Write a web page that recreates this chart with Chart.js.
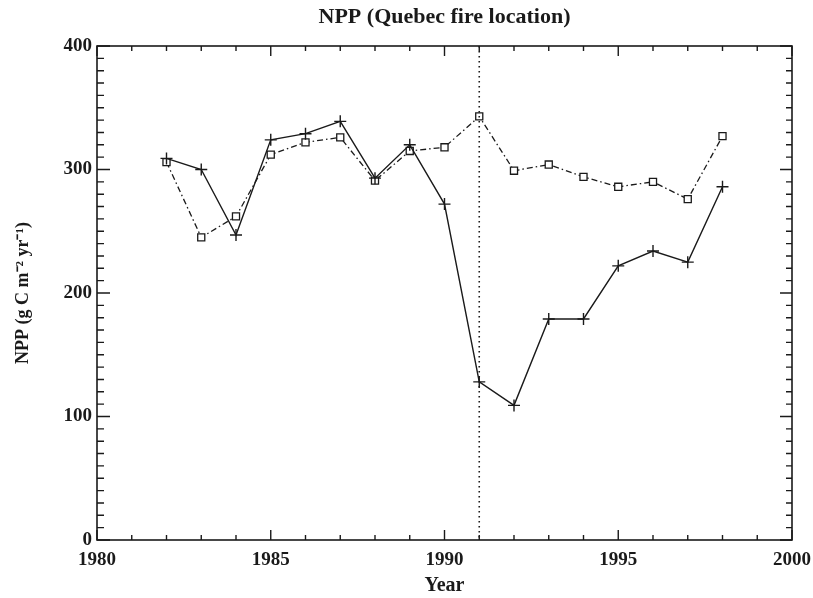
<!DOCTYPE html>
<html>
<head>
<meta charset="utf-8">
<script src="https://cdn.jsdelivr.net/npm/chart.js@4/dist/chart.umd.min.js"></script>
<style>
  html, body { margin: 0; padding: 0; background: #fff; overflow: hidden; }
  canvas { display: block; }
</style>
</head>
<body>
<canvas id="npp" width="813" height="598"></canvas>
<script>
const years = [1982, 1983, 1984, 1985, 1986, 1987, 1988, 1989, 1990, 1991, 1992, 1993, 1994, 1995, 1996, 1997, 1998];
const crossVals = [309, 300, 247, 324, 329, 339, 293, 320, 272, 128, 109, 179, 179, 222, 234, 225, 286];
const squareVals = [306, 245, 262, 312, 322, 326, 291, 315, 318, 343, 299, 304, 294, 286, 290, 276, 327];
const xTicks = [1980, 1985, 1990, 1995, 2000];
const yTicks = [0, 100, 200, 300, 400];
const fireYear = 1991;
const chartTitle = 'NPP (Quebec fire location)';

const INK = '#1a1a1a';
const SERIF = "'Liberation Serif', 'Times New Roman', serif";

// ticks inside the frame on all four sides, frame, fire line, title
const framePlugin = {
  id: 'frame',
  afterDatasetsDraw(chart) {
    const { ctx, chartArea: a, scales: { x, y } } = chart;
    ctx.save();
    ctx.strokeStyle = INK;

    // fire year dotted line
    const fx = x.getPixelForValue(fireYear);
    ctx.lineWidth = 1.6;
    ctx.setLineDash([1.6, 3.4]);
    ctx.beginPath();
    ctx.moveTo(fx, a.top);
    ctx.lineTo(fx, a.bottom);
    ctx.stroke();
    ctx.setLineDash([]);

    ctx.lineWidth = 1.4;
    ctx.beginPath();
    for (let v = x.min; v <= x.max; v += 1) {
      const px = x.getPixelForValue(v);
      const len = v % 5 === 0 ? 10 : 5;
      ctx.moveTo(px, a.bottom); ctx.lineTo(px, a.bottom - len);
      ctx.moveTo(px, a.top); ctx.lineTo(px, a.top + len);
    }
    for (let v = y.min; v <= y.max; v += 10) {
      const py = y.getPixelForValue(v);
      const big = v % 100 === 0;
      ctx.moveTo(a.left, py); ctx.lineTo(a.left + (big ? 13 : 7), py);
      ctx.moveTo(a.right, py); ctx.lineTo(a.right - (big ? 12 : 6), py);
    }
    ctx.stroke();

    ctx.lineWidth = 1.6;
    ctx.strokeRect(a.left, a.top, a.right - a.left, a.bottom - a.top);

    ctx.fillStyle = INK;
    ctx.font = 'bold 22px ' + SERIF;
    ctx.textAlign = 'center';
    ctx.textBaseline = 'middle';
    ctx.fillText(chartTitle, (a.left + a.right) / 2, 17);
    ctx.restore();
  }
};

new Chart(document.getElementById('npp'), {
  type: 'line',
  data: {
    datasets: [
      {
        label: 'NPP +',
        data: years.map((yr, i) => ({ x: yr, y: crossVals[i] })),
        borderColor: INK,
        borderWidth: 1.4,
        pointStyle: 'cross',
        pointRadius: 6,
        pointBorderWidth: 1.4,
        pointBorderColor: INK,
        tension: 0,
      },
      {
        label: 'NPP square',
        data: years.map((yr, i) => ({ x: yr, y: squareVals[i] })),
        borderColor: INK,
        borderWidth: 1.3,
        borderDash: [6, 3, 1.5, 3],
        pointStyle: 'rect',
        pointRadius: 5,
        pointBorderWidth: 1.3,
        pointBackgroundColor: '#fff',
        pointBorderColor: INK,
        tension: 0,
      },
    ],
  },
  options: {
    responsive: false,
    animation: false,
    devicePixelRatio: 1,
    layout: { padding: { top: 46, right: 21, left: 0, bottom: 0 } },
    plugins: {
      legend: { display: false },
      tooltip: { enabled: false },
    },
    scales: {
      x: {
        type: 'linear',
        min: 1980,
        max: 2000,
        afterBuildTicks: (s) => { s.ticks = xTicks.map((v) => ({ value: v })); },
        afterFit: (s) => { s.height = 58; s.paddingLeft = 0; s.paddingRight = 0; },
        grid: { display: false, drawTicks: false },
        border: { display: false },
        ticks: {
          color: INK,
          padding: 9,
          maxRotation: 0,
          font: { family: SERIF, size: 19, weight: 'bold' },
          callback: (v) => String(v),
        },
        title: {
          display: true,
          text: 'Year',
          color: INK,
          padding: { top: 0, bottom: 0 },
          font: { family: SERIF, size: 20, weight: 'bold' },
        },
      },
      y: {
        min: 0,
        max: 400,
        afterBuildTicks: (s) => { s.ticks = yTicks.map((v) => ({ value: v })); },
        afterFit: (s) => { s.width = 97; s.paddingTop = 0; s.paddingBottom = 0; },
        grid: { display: false, drawTicks: false },
        border: { display: false },
        ticks: {
          color: INK,
          padding: 5,
          font: { family: SERIF, size: 19, weight: 'bold' },
        },
        title: {
          display: true,
          text: 'NPP (g C m\u207B\u00B2 yr\u207B\u00B9)',
          color: INK,
          padding: { top: 13, bottom: 0 },
          font: { family: SERIF, size: 18, weight: 'bold' },
        },
      },
    },
  },
  plugins: [framePlugin],
});
</script>
</body>
</html>
